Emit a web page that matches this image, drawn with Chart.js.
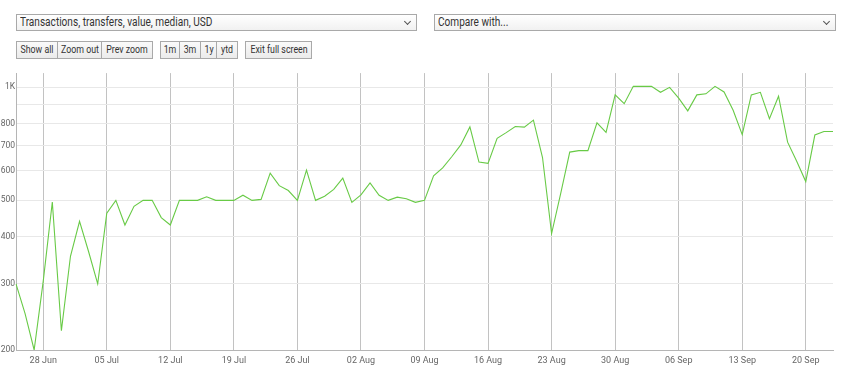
<!DOCTYPE html>
<html>
<head>
<meta charset="utf-8">
<script src="https://cdn.jsdelivr.net/npm/chart.js@4.4.1/dist/chart.umd.min.js"></script>
<style>
  body { margin: 0; width: 848px; height: 368px; background: #fff; font-family: Roboto, sans-serif; overflow: hidden; position: relative; }
  .sel { position: absolute; top: 14px; height: 15px; border: 1px solid #a9a9a9; background: linear-gradient(#fff, #f1f1f1); font-size: 12px; color: #333; line-height: 15px; }
  .sel .t { position: absolute; left: 3px; top: 0; transform: scaleX(0.84); transform-origin: left center; white-space: nowrap; }
  .sel .chev { position: absolute; right: 6px; top: 4px; width: 4px; height: 4px; border-right: 1px solid #555; border-bottom: 1px solid #555; transform: rotate(45deg); }
  .btn { position: absolute; top: 41px; height: 16px; border: 1px solid #a9a9a9; background: linear-gradient(#fafafa, #ebebeb); font-size: 11px; color: #333; line-height: 16px; overflow: hidden; }
  .btn span { position: absolute; left: 50%; top: 0; transform: translateX(-50%) scaleX(0.8); white-space: nowrap; }
  #wrap { position: absolute; left: 0; top: 67px; width: 848px; height: 301px; }
</style>
</head>
<body>
<div class="sel" style="left:16px;width:399px"><span class="t">Transactions, transfers, value, median, USD</span><span class="chev"></span></div>
<div class="sel" style="left:434px;width:400px"><span class="t">Compare with...</span><span class="chev"></span></div>

<div class="btn" style="left:16px;width:40px"><span>Show all</span></div>
<div class="btn" style="left:57px;width:43px"><span>Zoom out</span></div>
<div class="btn" style="left:101px;width:50px"><span>Prev zoom</span></div>
<div class="btn" style="left:160px;width:18px"><span>1m</span></div>
<div class="btn" style="left:179px;width:20px"><span>3m</span></div>
<div class="btn" style="left:200px;width:15px"><span>1y</span></div>
<div class="btn" style="left:216px;width:20px"><span>ytd</span></div>
<div class="btn" style="left:245px;width:65px"><span>Exit full screen</span></div>

<div id="wrap"><canvas id="myChart" width="848" height="301"></canvas></div>

<script>
// days shown: 25 Jun .. 23 Sep
const monthNames = ['Jun', 'Jul', 'Aug', 'Sep'];
const monthDays = [[25, 30], [1, 31], [1, 31], [1, 23]];

const weekLabels = ['28 Jun', '05 Jul', '12 Jul', '19 Jul', '26 Jul', '02 Aug', '09 Aug',
  '16 Aug', '23 Aug', '30 Aug', '06 Sep', '13 Sep', '20 Sep'];

const medianValues = [
  300, 250, 200, 305, 495, 225,
  355, 440, 365, 300, 462, 500, 430, 482, 500, 500, 450, 430, 500, 500, 500, 511,
  500, 500, 500, 516, 500, 503, 591, 547, 531, 500, 602, 500, 513, 535, 573,
  494, 517, 556, 516, 500, 510, 505, 494, 500, 581, 610, 653, 702, 784, 632, 627,
  731, 757, 786, 783, 817, 650, 408, 521, 672, 678, 678, 804, 758, 954, 904,
  1005, 1005, 1005, 969, 999, 935, 865, 954, 960, 1005, 971, 868, 748, 954, 969,
  825, 946, 714, 635, 561, 746, 762, 762
];

const yGridValues = [200, 300, 400, 500, 600, 700, 800, 900, 1000];
const yTickLabels = ['200', '300', '400', '500', '600', '700', '800', '', '1K'];

let dayLabels = [];
monthNames.forEach((m, i) => {
  for (let d = monthDays[i][0]; d <= monthDays[i][1]; d++) {
    dayLabels.push((d < 10 ? '0' + d : '' + d) + ' ' + m);
  }
});

const myChartElement = document.getElementById('myChart');

let myChart = new Chart(myChartElement, {
  type: 'line',
  data: {
    labels: dayLabels,
    datasets: [{
      data: medianValues,
      borderColor: 'rgb(104, 202, 70)',
      borderWidth: 1.1,
      pointRadius: 0,
      tension: 0,
      fill: false
    }]
  },
  options: {
    responsive: false,
    animation: false,
    devicePixelRatio: 1,
    layout: { padding: { top: 0, right: 15, left: 0, bottom: 0 } },
    plugins: { legend: { display: false }, tooltip: { enabled: false } },
    scales: {
      x: {
        type: 'category',
        offset: false,
        border: { color: '#b5b5b5' },
        grid: {
          drawTicks: false,
          color: ctx => weekLabels.includes(dayLabels[ctx.index]) ? '#c2c2c2' : 'rgba(0,0,0,0)'
        },
        ticks: {
          autoSkip: false,
          maxRotation: 0,
          padding: 5,
          color: '#666',
          font: { family: 'Roboto', size: 9 },
          callback: (v, i) => weekLabels.includes(dayLabels[i]) ? dayLabels[i] : ''
        },
        afterFit: s => { s.height = 18; }
      },
      y: {
        type: 'logarithmic',
        min: 200,
        max: 1090,
        border: { color: '#b5b5b5' },
        grid: { drawTicks: false, color: '#e8e8e8' },
        afterBuildTicks: s => { s.ticks = yGridValues.map(v => ({ value: v })); },
        ticks: {
          padding: 1,
          color: '#666',
          font: { family: 'Roboto', size: 8.5 },
          callback: (v, i) => yTickLabels[i]
        },
        afterFit: s => { s.width = 16; }
      }
    }
  }
});
</script>
</body>
</html>
